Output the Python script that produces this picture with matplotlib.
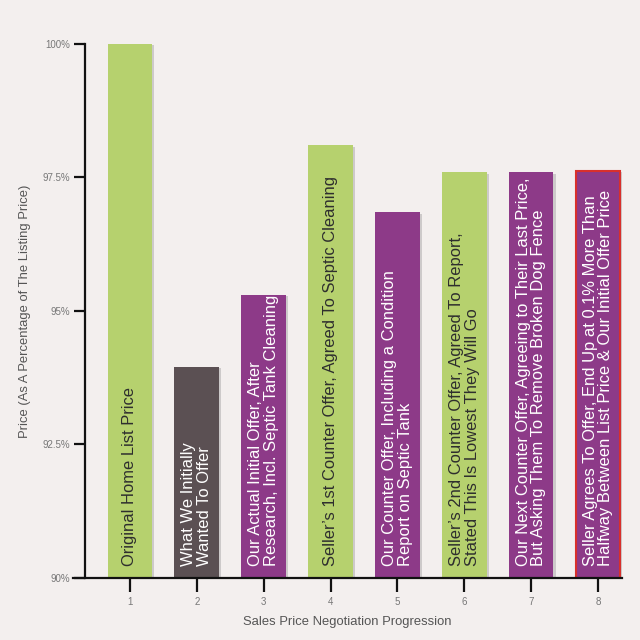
import matplotlib
matplotlib.use("Agg")
import matplotlib.pyplot as plt
import matplotlib.patheffects as pe

steps = [1, 2, 3, 4, 5, 6, 7, 8]
values = [100.0, 93.95, 95.3, 98.1, 96.85, 97.6, 97.6, 97.62]
labels = [
    "Original Home List Price",
    "What We Initially\nWanted To Offer",
    "Our Actual Initial Offer, After\nResearch, Incl. Septic Tank Cleaning",
    "Seller\u2019s 1st Counter Offer, Agreed To Septic Cleaning",
    "Our Counter Offer, Including a Condition\nReport on Septic Tank",
    "Seller\u2019s 2nd Counter Offer, Agreed To Report,\nStated This Is Lowest They Will Go",
    "Our Next Counter Offer, Agreeing to Their Last Price,\nBut Asking Them To Remove Broken Dog Fence",
    "Seller Agrees To Offer, End Up at 0.1% More Than\nHalfway Between List Price & Our Initial Offer Price",
]
kinds = ["seller", "want", "us", "seller", "us", "seller", "us", "final"]
yticks = [90, 92.5, 95, 97.5, 100]
ytick_labels = ["90%", "92.5%", "95%", "97.5%", "100%"]

GREEN = "#b6d16e"
PURPLE = "#8d3a88"
GRAY = "#5b5053"
BG = "#f3efee"
color_map = {"seller": GREEN, "want": GRAY, "us": PURPLE, "final": PURPLE}
text_map = {"seller": "#2e2e2e", "want": "white", "us": "white", "final": "white"}

plt.rcParams["font.family"] = ["Liberation Sans", "DejaVu Sans"]

fig = plt.figure(figsize=(6.4, 6.4), dpi=100, facecolor=BG)
ax = fig.add_axes([73 / 640, 1 - 578 / 640, (622 - 73) / 640, (578 - 44) / 640])
ax.set_facecolor(BG)

shadow = [pe.SimplePatchShadow(offset=(1.5, -1), alpha=0.3, shadow_rgbFace="#777777"), pe.Normal()]
for x, v, k, lab in zip(steps, values, kinds, labels):
    b = ax.bar(x, v - 90, bottom=90, width=0.67, color=color_map[k],
               edgecolor="#d8302c" if k == "final" else "none",
               linewidth=1.5 if k == "final" else 0, zorder=2)
    b[0].set_path_effects(shadow)
    ax.text(x, 90.22, lab, rotation=90, ha="center", va="bottom",
            multialignment="left", color=text_map[k], fontsize=11.9,
            linespacing=1.06, zorder=3)

ax.set_xlim(0.148, 8.36)
ax.set_ylim(90, 100)
ax.spines["left"].set_position(("data", 0.327))
ax.spines["top"].set_visible(False)
ax.spines["right"].set_visible(False)
for s in ("left", "bottom"):
    ax.spines[s].set_linewidth(1.6)
    ax.spines[s].set_color("#111111")

ax.set_xticks(steps)
ax.set_xticklabels([str(s) for s in steps])
ax.set_yticks(yticks)
ax.set_yticklabels(ytick_labels)
ax.tick_params(axis="x", length=10, width=1.6, color="#111111", labelsize=7,
               labelcolor="#777777", pad=4)
ax.tick_params(axis="y", length=8, width=1.6, color="#111111", labelsize=7,
               labelcolor="#777777", pad=3)

ax.set_xlabel("Sales Price Negotiation Progression", fontsize=9.4, color="#555555", labelpad=6)
ax.set_ylabel("Price (As A Percentage of The Listing Price)", fontsize=9.4, color="#555555", labelpad=8)

fig.savefig("out.png", dpi=100, facecolor=BG)
